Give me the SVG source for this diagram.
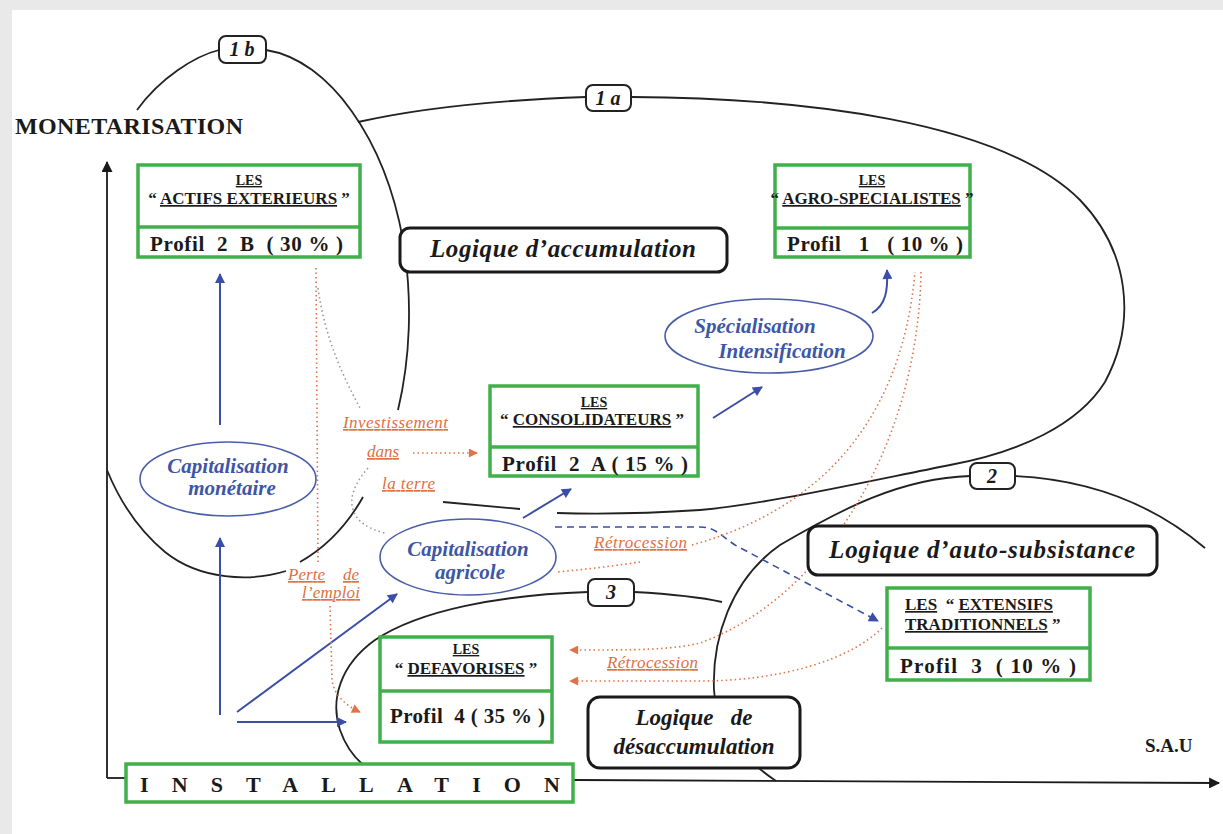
<svg xmlns="http://www.w3.org/2000/svg" width="1223" height="834" viewBox="0 0 1223 834">
<defs>
<style>
.box{fill:#fff;stroke:#3fb04a;stroke-width:3.5}
.dv{stroke:#3fb04a;stroke-width:3.5}
.bt{font-family:"Liberation Serif",serif;font-weight:bold;fill:#1a1a1a}
.les{font-size:14px;text-anchor:middle}
.nm{font-size:17px}
.u{text-decoration:underline}
.pf{font-size:21px;white-space:pre}
.logic{fill:#fff;stroke:#1a1a1a;stroke-width:3}
.lt{font-family:"Liberation Serif",serif;font-style:italic;font-weight:bold;fill:#1a1a1a}
.curve{fill:none;stroke:#222;stroke-width:1.8}
.tag{fill:#fff;stroke:#222;stroke-width:2}
.tagt{font-family:"Liberation Serif",serif;font-style:italic;font-weight:bold;font-size:20px;text-anchor:middle;fill:#1a1a1a;white-space:pre}
.ell{fill:#fff;stroke:#4a5ea8;stroke-width:1.6}
.et{font-family:"Liberation Serif",serif;font-style:italic;font-weight:bold;font-size:21px;fill:#3d56a6;text-anchor:middle}
.ba{fill:none;stroke:#3b4ea6;stroke-width:2;marker-end:url(#ab)}
.bd{fill:none;stroke:#3b4ea6;stroke-width:1.6;stroke-dasharray:7 5;marker-end:url(#ab)}
.od{fill:none;stroke:#e07448;stroke-width:1.6;stroke-dasharray:1.5 3}
.gd{fill:none;stroke:#9a9a9a;stroke-width:1.6;stroke-dasharray:1.5 3}
.oa{marker-end:url(#ao)}
.ol{font-family:"Liberation Serif",serif;font-style:italic;font-size:17px;fill:#e07040;text-decoration:underline}
.ax{fill:none;stroke:#1a1a1a;stroke-width:1.8}
</style>
<marker id="ab" viewBox="0 0 10 10" refX="9" refY="5" markerUnits="userSpaceOnUse" markerWidth="12" markerHeight="10" orient="auto"><path d="M0,0 L10,5 L0,10 z" fill="#3b4ea6"/></marker>
<marker id="ao" viewBox="0 0 10 10" refX="9" refY="5" markerUnits="userSpaceOnUse" markerWidth="10" markerHeight="9" orient="auto"><path d="M0,0 L10,5 L0,10 z" fill="#e07448"/></marker>
<marker id="ak" viewBox="0 0 10 10" refX="9" refY="5" markerUnits="userSpaceOnUse" markerWidth="14" markerHeight="11" orient="auto"><path d="M0,0 L10,5 L0,10 z" fill="#1a1a1a"/></marker>
</defs>
<rect x="0" y="0" width="1223" height="834" fill="#e9e9e9"/>
<rect x="12" y="10" width="1211" height="824" fill="#fff"/>

<g id="axes">
<path class="ax" d="M107,778 L107,162" marker-end="url(#ak)"/>
<path class="ax" d="M107,778 L126,778"/>
<path class="ax" d="M573,780 L1219,783" marker-end="url(#ak)"/>
<text x="15" y="134" class="bt" font-size="24" textLength="228">MONETARISATION</text>
<text x="1145" y="752" class="bt" font-size="19">S.A.U</text>
</g>

<g id="zones">
<path class="curve" d="M137,110 C160,78 195,56 219,50"/>
<path class="curve" d="M266,50 C330,60 385,140 403,240 C413,300 410,360 398,410"/>
<path class="curve" d="M363,497 C350,520 330,545 300,562"/>
<path class="curve" d="M286,571 C250,582 200,580 165,552 C135,527 118,497 107,470"/>
<path class="curve" d="M358,122 C420,108 500,100 586,97"/>
<path class="curve" d="M631,97 C800,98 1000,120 1080,200 C1128,250 1138,320 1105,382 C1078,425 1020,452 950,465 C850,485 760,505 700,510 C640,514 590,514 557,513"/>
<path class="curve" d="M520,509 L443,502"/>
<path class="curve" d="M970,476 C900,478 840,510 780,545 C730,580 712,640 714,690 C716,730 745,760 776,781"/>
<path class="curve" d="M1015,476 C1100,480 1160,510 1205,548"/>
<path class="curve" d="M588,592 C500,595 420,610 375,640 C340,665 330,700 340,730 C347,750 358,762 370,770"/>
<path class="curve" d="M634,592 C670,594 700,597 722,602"/>
</g>

<g id="connectors">
<path class="ba" d="M220,425 L220,274"/>
<path class="ba" d="M220,715 L220,538"/>
<path class="ba" d="M237,712 L397,594"/>
<path class="ba" d="M237,722 L346,722"/>
<path class="ba" d="M523,518 L571,489"/>
<path class="ba" d="M713,418 L762,387"/>
<path class="ba" d="M872,313 C886,305 888,290 887,270"/>
<path class="bd" d="M555,527 L700,527 C715,527 720,535 735,545 L878,621"/>
<path class="od" d="M316,268 L318,562"/>
<path class="od oa" d="M330,606 L332,680 C334,695 345,705 360,712"/>
<path class="gd" d="M318,288 C325,340 345,380 360,408"/>
<path class="od oa" d="M413,453 L477,453"/>
<path class="gd" d="M368,468 C340,500 350,525 385,533"/>
<path class="od" d="M692,545 C800,515 900,440 915,272"/>
<path class="od" d="M640,562 Q600,568 557,572"/>
<path class="od oa" d="M921,272 C918,450 820,600 700,643 C670,650 640,650 570,650"/>
<path class="od oa" d="M882,628 C850,660 780,681 700,681 L570,681"/>
<text class="ol" x="343" y="428" textLength="105">Investissement</text>
<text class="ol" x="367" y="457" textLength="32">dans</text>
<text class="ol" x="382" y="489" textLength="53">la terre</text>
<text class="ol" x="288" y="580" textLength="37">Perte</text>
<text class="ol" x="343" y="580" textLength="16">de</text>
<text class="ol" x="302" y="598" textLength="58">l’emploi</text>
<text class="ol" x="594" y="548" textLength="93">Rétrocession</text>
<text class="ol" x="607" y="668" textLength="91">Rétrocession</text>
</g>

<g id="tag-1b"><rect class="tag" x="219" y="36" width="47" height="27" rx="7"/><text class="tagt" x="242" y="56">1 b</text></g>
<g id="tag-1a"><rect class="tag" x="586" y="85" width="45" height="26" rx="7"/><text class="tagt" x="608" y="105">1 a</text></g>
<g id="tag-2"><rect class="tag" x="970" y="463" width="45" height="26" rx="7"/><text class="tagt" x="992" y="483">2</text></g>
<g id="tag-3"><rect class="tag" x="588" y="579" width="46" height="27" rx="7"/><text class="tagt" x="611" y="599">3</text></g>

<g id="logique-accumulation"><rect class="logic" x="400" y="228" width="327" height="44" rx="10"/><text class="lt" x="563" y="257" font-size="25" text-anchor="middle" textLength="266">Logique d’accumulation</text></g>
<g id="logique-autosubsistance"><rect class="logic" x="808" y="526" width="349" height="49" rx="10"/><text class="lt" x="982" y="558" font-size="25" text-anchor="middle" textLength="306">Logique d’auto-subsistance</text></g>
<g id="logique-desaccumulation"><rect class="logic" x="588" y="697" width="212" height="71" rx="12"/><text class="lt" x="694" y="725" font-size="23" text-anchor="middle" style="white-space:pre">Logique   de</text><text class="lt" x="694" y="754" font-size="23" text-anchor="middle">désaccumulation</text></g>

<g id="capitalisation-monetaire"><ellipse class="ell" cx="228" cy="479" rx="88" ry="37"/><text class="et" x="228" y="473">Capitalisation</text><text class="et" x="232" y="495">monétaire</text></g>
<g id="capitalisation-agricole"><ellipse class="ell" cx="468" cy="557" rx="88" ry="38"/><text class="et" x="468" y="556">Capitalisation</text><text class="et" x="470" y="579">agricole</text></g>
<g id="specialisation"><ellipse class="ell" cx="769" cy="336" rx="104" ry="37"/><text class="et" x="755" y="333">Spécialisation</text><text class="et" x="782" y="358">Intensification</text></g>

<g id="actifs-exterieurs"><rect class="box" x="138" y="165" width="222" height="92"/><line class="dv" x1="138" y1="227" x2="360" y2="227"/>
<text class="bt les" x="249" y="185"><tspan class="u">LES</tspan></text>
<text class="bt nm" x="249" y="204" text-anchor="middle">“ <tspan class="u">ACTIFS EXTERIEURS</tspan> ”</text>
<text class="bt pf" x="150" y="251" textLength="193">Profil  2  B  ( 30 % )</text></g>

<g id="agro-specialistes"><rect class="box" x="775" y="165" width="195" height="92"/><line class="dv" x1="775" y1="228" x2="970" y2="228"/>
<text class="bt les" x="872" y="185"><tspan class="u">LES</tspan></text>
<text class="bt nm" x="872" y="204" text-anchor="middle">“ <tspan class="u">AGRO-SPECIALISTES</tspan> ”</text>
<text class="bt pf" x="787" y="251" textLength="176">Profil   1   ( 10 % )</text></g>

<g id="consolidateurs"><rect class="box" x="490" y="386" width="208" height="90"/><line class="dv" x1="490" y1="447" x2="698" y2="447"/>
<text class="bt les" x="594" y="407"><tspan class="u">LES</tspan></text>
<text class="bt nm" x="592" y="425" text-anchor="middle">“ <tspan class="u">CONSOLIDATEURS</tspan> ”</text>
<text class="bt pf" x="502" y="471" textLength="186">Profil  2  A ( 15 % )</text></g>

<g id="extensifs-traditionnels"><rect class="box" x="887" y="588" width="203" height="92"/><line class="dv" x1="887" y1="648" x2="1090" y2="648"/>
<text class="bt nm" x="905" y="610" style="white-space:pre"><tspan class="u">LES</tspan>  “ <tspan class="u">EXTENSIFS</tspan></text>
<text class="bt nm" x="905" y="630"><tspan class="u">TRADITIONNELS</tspan> ”</text>
<text class="bt pf" x="900" y="673" textLength="176">Profil  3  ( 10 % )</text></g>

<g id="defavorises"><rect class="box" x="380" y="637" width="172" height="105"/><line class="dv" x1="380" y1="691" x2="552" y2="691"/>
<text class="bt les" x="466" y="654"><tspan class="u">LES</tspan></text>
<text class="bt nm" x="466" y="674" text-anchor="middle">“ <tspan class="u">DEFAVORISES</tspan> ”</text>
<text class="bt pf" x="390" y="723" textLength="155">Profil  4 ( 35 % )</text></g>

<g id="installation"><rect class="box" x="126" y="764" width="447" height="38"/>
<text class="bt" x="140" y="792" font-size="22" textLength="420" lengthAdjust="spacing">INSTALLATION</text></g>
</svg>
